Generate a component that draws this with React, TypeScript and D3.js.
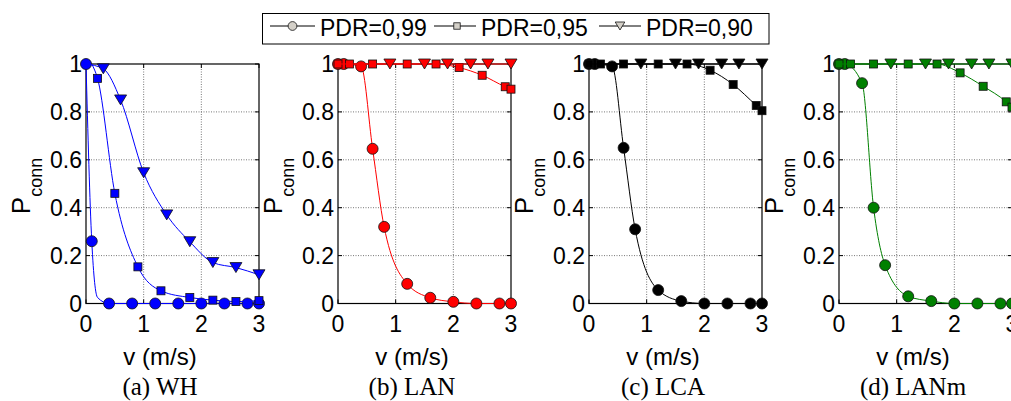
import * as d3 from 'd3';

// each point: [v, Pconn, marker?]  (third value 0 = line passes here but no marker)
type Pt = [number, number, number?];

const panelNames = ['(a) WH', '(b) LAN', '(c) LCA', '(d) LANm'];
const panelColors = ['#0000ff', '#ff0000', '#000000', '#008000'];
const legendLabels = ['PDR=0,99', 'PDR=0,95', 'PDR=0,90'];
const xTicks = [0, 1, 2, 3];
const yTicks = [0, 0.2, 0.4, 0.6, 0.8, 1];
const yTickLabels = ['0', '0.2', '0.4', '0.6', '0.8', '1'];

const whPdr99: Pt[] = [[0, 1], [0.1, 0.26], [0.2, 0.025, 0], [0.4, 0], [0.8, 0], [1.2, 0], [1.6, 0], [2.0, 0], [2.4, 0], [2.8, 0], [3.0, 0]];
const whPdr95: Pt[] = [[0.1, 1, 0], [0.2, 0.94], [0.5, 0.46], [0.9, 0.153], [1.3, 0.053], [1.8, 0.025], [2.2, 0.014], [2.6, 0.008], [3.0, 0.012]];
const whPdr90: Pt[] = [[0, 1, 0], [0.3, 0.98], [0.6, 0.85], [1.0, 0.546], [1.4, 0.37], [1.8, 0.258], [2.2, 0.171], [2.6, 0.15], [3.0, 0.12]];

const lanPdr99: Pt[] = [[0, 1], [0.1, 1], [0.4, 0.99], [0.6, 0.646], [0.8, 0.32], [1.2, 0.082], [1.6, 0.024], [2.0, 0.007], [2.4, 0], [2.8, 0], [3.0, 0]];
const lanPdr95: Pt[] = [[0, 1], [0.2, 1], [0.6, 1], [1.2, 1], [1.7, 1], [2.1, 0.985], [2.5, 0.953], [2.9, 0.905], [3.0, 0.895]];
const lanPdr90: Pt[] = [[0, 1, 0], [0.9, 1], [1.5, 1], [1.9, 1], [2.3, 1], [2.6, 1], [3.0, 1]];

const lcaPdr99: Pt[] = [[0, 1], [0.1, 1], [0.4, 0.99], [0.6, 0.65], [0.8, 0.31], [1.2, 0.056], [1.6, 0.01], [2.0, 0], [2.4, 0], [2.8, 0], [3.0, 0]];
const lcaPdr95: Pt[] = [[0, 1], [0.2, 1], [0.6, 1], [1.2, 1], [1.7, 1], [2.1, 0.974], [2.5, 0.914], [2.9, 0.827], [3.0, 0.805]];
const lcaPdr90: Pt[] = [[0, 1, 0], [0.9, 1], [1.5, 1], [1.9, 1], [2.3, 1], [2.6, 1], [3.0, 1]];

const lanmPdr99: Pt[] = [[0, 1], [0.1, 1], [0.4, 0.92], [0.6, 0.4], [0.8, 0.16], [1.2, 0.03], [1.6, 0.01], [2.0, 0], [2.4, 0], [2.8, 0], [3.0, 0]];
const lanmPdr95: Pt[] = [[0, 1], [0.2, 1], [0.6, 1], [1.2, 1], [1.7, 1], [2.1, 0.963], [2.5, 0.907], [2.9, 0.842], [3.0, 0.82]];
const lanmPdr90: Pt[] = [[0, 1, 0], [0.9, 1], [1.5, 1], [1.9, 1], [2.3, 1], [2.6, 1], [3.0, 1]];

const panelSeries = [
  [whPdr99, whPdr95, whPdr90],
  [lanPdr99, lanPdr95, lanPdr90],
  [lcaPdr99, lcaPdr95, lcaPdr90],
  [lanmPdr99, lanmPdr95, lanmPdr90],
];

const W = 1011;
const H = 401;
const panelLeft = [86, 338, 589, 839];
const plotW = 173;
const top = 64;
const bottom = 303.5;
const sans = '"Liberation Sans", Arial, sans-serif';
const serif = '"Liberation Serif", "Times New Roman", serif';

function Marker({ kind, x, y, fill, size = 1 }: { kind: number; x: number; y: number; fill: string; size?: number }) {
  const stroke = '#111';
  if (kind === 0) return <circle cx={x} cy={y} r={5.5 * size} fill={fill} stroke={stroke} strokeWidth={0.8} />;
  if (kind === 1) {
    const s = 8 * size;
    return <rect x={x - s / 2} y={y - s / 2} width={s} height={s} fill={fill} stroke={stroke} strokeWidth={0.8} />;
  }
  const w = 12 * size, h = 10 * size;
  return <path d={`M${x - w / 2},${y - h / 2}L${x + w / 2},${y - h / 2}L${x},${y + h / 2}Z`} fill={fill} stroke={stroke} strokeWidth={0.8} />;
}

function Panel({ idx }: { idx: number }) {
  const left = panelLeft[idx];
  const color = panelColors[idx];
  const x = d3.scaleLinear().domain([0, 3]).range([left, left + plotW]);
  const y = d3.scaleLinear().domain([0, 1]).range([bottom, top]);
  const line = d3.line<Pt>().x(d => x(d[0])).y(d => y(d[1])).curve(d3.curveMonotoneX);
  const cx = left + 74;

  return (
    <g>
      {/* grid */}
      {xTicks.slice(1, -1).map(t => (
        <line key={'gx' + t} x1={x(t)} x2={x(t)} y1={top} y2={bottom} stroke="#555" strokeWidth={0.8} strokeDasharray="1,1.5" />
      ))}
      {yTicks.slice(1, -1).map(t => (
        <line key={'gy' + t} x1={left} x2={left + plotW} y1={y(t)} y2={y(t)} stroke="#555" strokeWidth={0.8} strokeDasharray="1,1.5" />
      ))}
      {/* box and ticks */}
      <rect x={left} y={top} width={plotW} height={bottom - top} fill="none" stroke="#000" strokeWidth={1.2} />
      {xTicks.map(t => (
        <g key={'tx' + t}>
          <line x1={x(t)} x2={x(t)} y1={bottom} y2={bottom - 4} stroke="#000" />
          <line x1={x(t)} x2={x(t)} y1={top} y2={top + 4} stroke="#000" />
          <text x={x(t)} y={332} textAnchor="middle" fontFamily={sans} fontSize={23}>{t}</text>
        </g>
      ))}
      {yTicks.map((t, i) => (
        <g key={'ty' + t}>
          <line x1={left} x2={left + 4} y1={y(t)} y2={y(t)} stroke="#000" />
          <line x1={left + plotW} x2={left + plotW - 4} y1={y(t)} y2={y(t)} stroke="#000" />
          <text x={left - 4} y={y(t)} dy="0.36em" textAnchor="end" fontFamily={sans} fontSize={23}>{yTickLabels[i]}</text>
        </g>
      ))}
      {/* series */}
      {panelSeries[idx].map((pts, k) => (
        <g key={'s' + k}>
          <path d={line(pts) || ''} fill="none" stroke={color} strokeWidth={1} />
          {pts.filter(p => p[2] !== 0).map((p, j) => (
            <Marker key={j} kind={k} x={x(p[0])} y={y(p[1])} fill={color} />
          ))}
        </g>
      ))}
      {/* labels */}
      <text transform={`translate(${left - 56},186) rotate(-90)`} textAnchor="middle" fontFamily={sans} fontSize={26}>
        P<tspan fontSize={18} dy={12}>conn</tspan>
      </text>
      <text x={cx} y={365} textAnchor="middle" fontFamily={sans} fontSize={24}>v (m/s)</text>
      <text x={cx} y={395} textAnchor="middle" fontFamily={serif} fontSize={25}>{panelNames[idx]}</text>
    </g>
  );
}

function Legend() {
  const lineY = 26;
  const items = [
    { x0: 270, x1: 315, m: 292.5, tx: 320 },
    { x0: 434, x1: 476, m: 457, tx: 481 },
    { x0: 599, x1: 641, m: 620, tx: 646 },
  ];
  return (
    <g>
      <rect x={262.5} y={13.5} width={506.5} height={30.5} fill="#fff" stroke="#000" strokeWidth={1} />
      {items.map((it, k) => (
        <g key={k}>
          <line x1={it.x0} x2={it.x1} y1={lineY} y2={lineY} stroke="#000" strokeWidth={1} />
          <Marker kind={k} x={it.m} y={lineY} fill="#d4d0c8" size={0.8} />
          <text x={it.tx} y={36} fontFamily={sans} fontSize={23}>{legendLabels[k]}</text>
        </g>
      ))}
    </g>
  );
}

export default function App() {
  return (
    <svg width={W} height={H} style={{ position: 'absolute', left: 0, top: 0, background: '#fff' }}>
      <rect width={W} height={H} fill="#fff" />
      {panelNames.map((_, i) => <Panel key={i} idx={i} />)}
      <Legend />
    </svg>
  );
}
